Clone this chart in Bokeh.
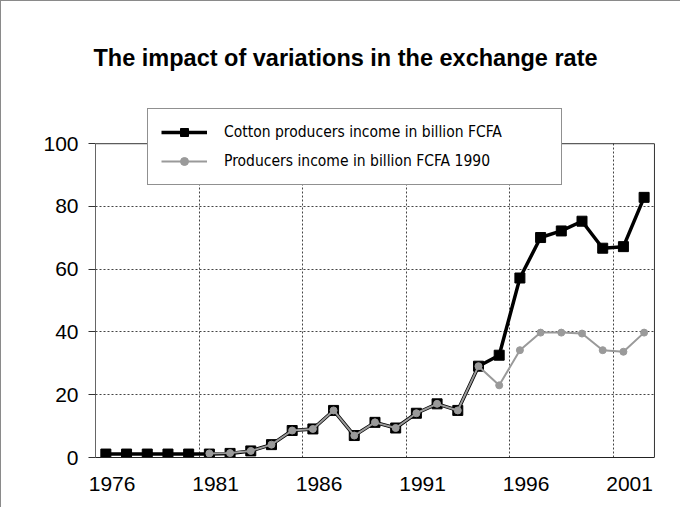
from bokeh.plotting import figure
from bokeh.models import Legend, LegendItem, FixedTicker, Range1d, CustomJSTickFormatter
from bokeh.embed import file_html
from bokeh.resources import INLINE

# ---- data ----
years = list(range(1976, 2003))
cotton_income = [1.1, 1.1, 1.1, 1.1, 1.1, 1.1, 1.3, 2.1, 4.1, 8.6, 9.1, 15.0, 7.0, 11.2,
                 9.4, 14.1, 17.1, 15.0, 29.1, 32.6, 57.2, 70.1, 72.2, 75.3, 66.7, 67.2, 82.9]
years_1990 = list(range(1981, 2003))
income_1990 = [1.3, 1.4, 2.1, 4.1, 8.6, 9.1, 15.0, 7.0, 11.2, 9.4, 14.1, 17.1, 15.0,
               29.1, 23.0, 34.2, 39.8, 39.8, 39.5, 34.2, 33.7, 39.8]
x_label_years = [1976, 1981, 1986, 1991, 1996, 2001]
y_ticks = [0, 20, 40, 60, 80, 100]
series_names = ["Cotton producers income in billion FCFA", "Producers income in billion FCFA 1990"]
title_text = "The impact of variations in the exchange rate"

FONT = "Liberation Sans"
NARROW = "Liberation Sans Narrow, DejaVu Sans Condensed, sans-serif"

# frame reaches a little above the 100 line so the legend box can sit over it
y_max = y_ticks[-1]
y_top = y_max * (455 - 106) / (455 - 143)
x_lo, x_hi = years[0] - 0.5, years[-1] + 0.5

p = figure(width=680, height=507, output_backend="svg", toolbar_location=None,
           x_range=Range1d(x_lo, x_hi + 0.05), y_range=Range1d(0, y_top),
           min_border_left=94, min_border_right=26, min_border_top=105, min_border_bottom=51)
p.styles = {"border-left": "1px solid #8a8a8a", "border-top": "1px solid #8a8a8a"}
p.background_fill_color = "white"
p.border_fill_color = "white"
p.outline_line_color = None

# title
p.title.text = title_text
p.title.align = "left"
p.title.offset = -2
p.title.standoff = 71
p.title.text_font = FONT
p.title.text_font_style = "bold"
p.title.text_font_size = "23.5px"
p.title.text_color = "black"

# grids
p.xgrid.ticker = FixedTicker(ticks=[y - 0.5 for y in x_label_years[1:]])
p.xgrid.cross_bounds = (0, y_max)
p.ygrid.ticker = FixedTicker(ticks=y_ticks[1:-1])
for g in (p.xgrid, p.ygrid):
    g.grid_line_color = "#444444"
    g.grid_line_dash = "2 2"
    g.grid_line_width = 1

# plot-area top and right border
p.segment(x0=[x_lo, x_hi], y0=[y_max, 0], x1=[x_hi, x_hi], y1=[y_max, y_max],
          line_color="#333333", line_width=1)

# y axis
p.yaxis.ticker = FixedTicker(ticks=y_ticks)
p.yaxis.bounds = (0, y_max)
p.yaxis.major_tick_out = 7
p.yaxis.major_tick_in = 0
p.yaxis.minor_tick_line_color = None
p.yaxis.major_tick_line_color = "#333333"
p.yaxis.axis_line_color = "#666666"
p.yaxis.major_label_standoff = 10
p.yaxis.major_label_text_font = FONT
p.yaxis.major_label_text_font_size = "21px"
p.yaxis.major_label_text_color = "black"

# x axis
p.xaxis.ticker = FixedTicker(ticks=[y + 0.3 for y in x_label_years])
p.xaxis.formatter = CustomJSTickFormatter(code="return Math.floor(tick).toFixed(0);")
p.xaxis.bounds = (x_lo, x_hi)
p.xaxis.major_tick_line_color = None
p.xaxis.minor_tick_line_color = None
p.xaxis.major_tick_out = 0
p.xaxis.major_tick_in = 0
p.xaxis.axis_line_color = "#222222"
p.xaxis.major_label_standoff = 19
p.xaxis.major_label_text_font = FONT
p.xaxis.major_label_text_font_size = "21px"
p.xaxis.major_label_text_color = "black"

# series
l1 = p.line(years, cotton_income, line_color="black", line_width=3.5)
m1 = p.scatter(years, cotton_income, marker="square", size=10, fill_color="black", line_color="black")
l2 = p.line(years_1990, income_1990, line_color="#9a9a9a", line_width=2)
m2 = p.scatter(years_1990, income_1990, marker="circle", size=7, fill_color="#9a9a9a", line_color="#9a9a9a")

legend = Legend(items=[LegendItem(label=series_names[0], renderers=[l1, m1]),
                       LegendItem(label=series_names[1], renderers=[l2, m2])],
                location=(52, 272))
legend.border_line_color = "#222222"
legend.border_line_width = 1
legend.background_fill_color = "white"
legend.background_fill_alpha = 1
legend.padding = 13
legend.spacing = 9
legend.margin = 0
legend.glyph_width = 46
legend.glyph_height = 20
legend.label_height = 20
legend.label_standoff = 17
legend.label_width = 324
legend.label_text_font = NARROW
legend.label_text_font_size = "15.5px"
legend.label_text_color = "black"
p.add_layout(legend, "center")

open("out.html", "w").write(file_html(p, INLINE))
